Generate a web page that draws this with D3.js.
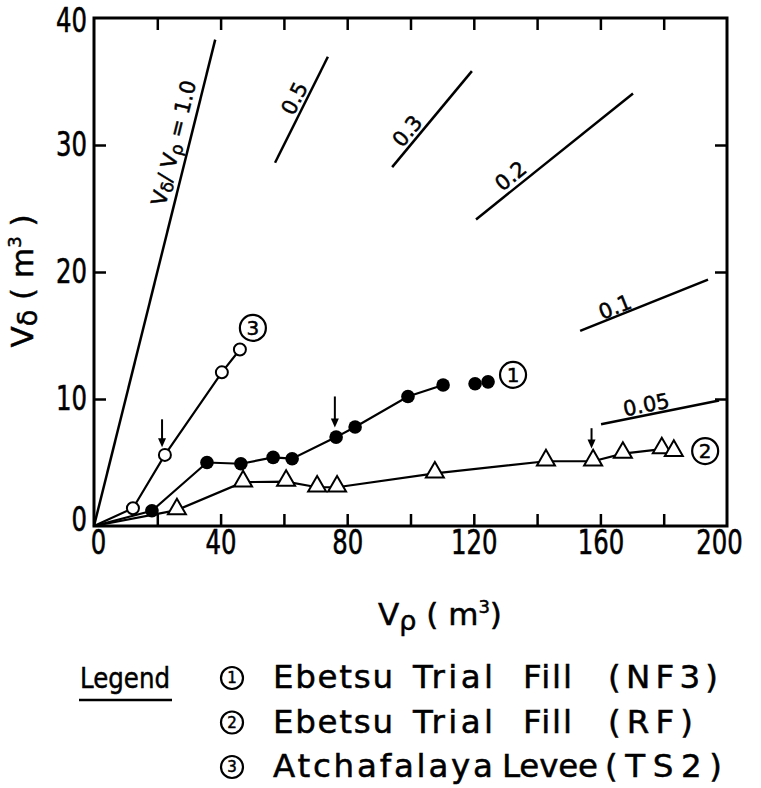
<!DOCTYPE html>
<html>
<head>
<meta charset="utf-8">
<script src="https://cdn.jsdelivr.net/npm/d3@7"></script>
<style>
  html, body { margin: 0; padding: 0; background: #fff; }
  svg { display: block; }
  .tick-label { font-family: 'DejaVu Sans', sans-serif; font-size: 33px; fill: #000; stroke: #000; stroke-width: 0.6px; }
  .hand { font-family: 'DejaVu Sans', sans-serif; fill: #000; }
  .heavy { stroke: #000; stroke-width: 0.5px; }
</style>
</head>
<body>
<svg id="chart" width="761" height="788"></svg>
<script>
// series 1: Ebetsu Trial Fill (NF3), filled circles
const nf3X = [18.3, 35.7, 46.4, 56.6, 62.6, 76.5, 82.5, 99.2, 110.3, 120.4, 124.5];
const nf3Y = [1.2, 5.0, 4.9, 5.4, 5.3, 7.0, 7.8, 10.2, 11.1, 11.2, 11.35];
const nf3Joined = 9; // last two points are not on the line

// series 2: Ebetsu Trial Fill (RF), triangles
const rfX = [26.2, 47.1, 60.7, 70.5, 76.8, 107.7, 142.8, 157.7, 167.1, 179.4, 183.2];
const rfY = [1.25, 3.45, 3.5, 3.05, 3.05, 4.15, 5.1, 5.1, 5.7, 6.05, 5.85];

// series 3: Atchafalaya Levee (TS2), open circles
const ts2X = [12.3, 22.4, 40.4, 46.1];
const ts2Y = [1.4, 5.6, 12.1, 13.9];

// V_delta / V_rho ratio lines
const ratioValues = [1.0, 0.5, 0.3, 0.2, 0.1, 0.05];
const ratioFrom = [0, 57.2, 94.2, 120.7, 153.6, 160.2];
const ratioTo = [38.3, 73.9, 119.4, 170.3, 194, 197.5];
const ratioLabels = ['1.0', '0.5', '0.3', '0.2', '0.1', '0.05'];
const ratioLabelAt = [0.78, 0.56, 0.30, 0.27, 0.30, 0.40];
const ratioLabelOff = [15, 11, 11, 12, 9, 10];

// arrows marking points (x, from y, to y)
const arrowX = [21.5, 76.1, 157.2];
const arrowTop = [8.4, 10.2, 7.7];
const arrowTip = [6.2, 7.75, 6.1];

// circled series numbers in the plot
const tagNums = ['3', '1', '2'];
const tagX = [50.2, 132.4, 193.1];
const tagY = [15.6, 11.9, 5.9];

const xMajor = [0, 40, 80, 120, 160, 200];
const xMinor = [20, 40, 60, 80, 100, 120, 140, 160, 180];
const yMajor = [0, 10, 20, 30, 40];
const yMinor = [10, 20, 30];

const legendNums = ['1', '2', '3'];
const legendWords = [
  ['Ebetsu', 'Trial', 'Fill', '(NF3)'],
  ['Ebetsu', 'Trial', 'Fill', '(RF)'],
  ['Atchafalaya', 'Levee', '(TS2)']
];
const legendWordX = [[273, 413, 523, 608], [273, 413, 523, 608], [273, 502, 605]];
const legendWordW = [[120, 80, 49, 110], [120, 80, 49, 85], [220, 96, 117]];

const svg = d3.select('#chart');
const x = d3.scaleLinear().domain([0, 200]).range([94, 727]);
const y = d3.scaleLinear().domain([0, 40]).range([526, 18]);

// minor ticks pointing inwards on all four sides
const tickLen = 12;
const ticks = (axis, tf) => svg.append('g').attr('transform', tf).call(axis)
  .call(g => g.select('.domain').remove())
  .call(g => g.selectAll('line').attr('stroke', '#000').attr('stroke-width', 2.5));
ticks(d3.axisBottom(x).tickValues(xMinor).tickSize(-tickLen).tickFormat(''), `translate(0,${y(0)})`);
ticks(d3.axisTop(x).tickValues(xMinor).tickSize(-tickLen).tickFormat(''), `translate(0,${y(40)})`);
ticks(d3.axisLeft(y).tickValues(yMinor).tickSize(-tickLen).tickFormat(''), `translate(${x(0)},0)`);
ticks(d3.axisRight(y).tickValues(yMinor).tickSize(-tickLen).tickFormat(''), `translate(${x(200)},0)`);

// tick labels, squeezed to the narrow digits of the original
const labels = (axis, tf) => svg.append('g').attr('transform', tf).call(axis)
  .call(g => g.select('.domain').remove())
  .call(g => g.selectAll('text').attr('class', 'tick-label').attr('font-size', null).attr('font-family', null)
    .attr('textLength', function () { return this.textContent.length * 15.5; })
    .attr('lengthAdjust', 'spacingAndGlyphs'));
const xLab = labels(d3.axisBottom(x).tickValues(xMajor).tickSize(0).tickPadding(5), `translate(0,${y(0)})`);
xLab.selectAll('text').filter(d => d === 0).attr('dx', 4);
xLab.selectAll('text').filter(d => d === 200).attr('dx', -8);
const yLab = labels(d3.axisLeft(y).tickValues(yMajor).tickSize(0).tickPadding(7), `translate(${x(0)},0)`);
yLab.selectAll('text').filter(d => d === 40).attr('dy', '0.42em');
yLab.selectAll('text').filter(d => d === 0).attr('dy', '0.15em');

// frame
svg.append('rect')
  .attr('x', x(0)).attr('y', y(40))
  .attr('width', x(200) - x(0)).attr('height', y(0) - y(40))
  .attr('fill', 'none').attr('stroke', '#000').attr('stroke-width', 3);

// ratio lines
ratioValues.forEach((r, i) => {
  const x0 = x(ratioFrom[i]), y0 = y(ratioFrom[i] * r);
  const x1 = x(ratioTo[i]), y1 = y(ratioTo[i] * r);
  svg.append('line').attr('x1', x0).attr('y1', y0).attr('x2', x1).attr('y2', y1)
    .attr('stroke', '#000').attr('stroke-width', 2.5);
  const dx = x1 - x0, dy = y1 - y0, len = Math.hypot(dx, dy);
  const ux = dx / len, uy = dy / len;
  const t = ratioLabelAt[i], off = ratioLabelOff[i];
  const px = x0 + t * dx + uy * off, py = y0 + t * dy - ux * off;
  const ang = Math.atan2(dy, dx) * 180 / Math.PI;
  const txt = svg.append('text').attr('class', 'hand heavy')
    .attr('transform', `translate(${px},${py}) rotate(${ang})`)
    .attr('text-anchor', 'middle').attr('dominant-baseline', 'central')
    .attr('font-size', 21);
  if (i === 0) {
    txt.append('tspan').text('V');
    txt.append('tspan').attr('font-size', 17).attr('dy', 4).text('δ');
    txt.append('tspan').attr('dy', -4).text('/ V');
    txt.append('tspan').attr('font-size', 17).attr('dy', 4).text('ρ');
    txt.append('tspan').attr('dy', -4).text(' = ' + ratioLabels[i]);
  } else {
    txt.text(ratioLabels[i]);
  }
});

// data lines from the origin
const line = d3.line().x(d => x(d[0])).y(d => y(d[1]));
const pts = (xs, ys) => xs.map((v, i) => [v, ys[i]]);
const drawLine = data => svg.append('path').datum([[0, 0], ...data]).attr('d', line)
  .attr('fill', 'none').attr('stroke', '#000').attr('stroke-width', 2.2);
drawLine(pts(nf3X, nf3Y).slice(0, nf3Joined));
drawLine(pts(rfX, rfY));
drawLine(pts(ts2X, ts2Y));

// markers
svg.append('g').selectAll('path').data(pts(rfX, rfY)).join('path')
  .attr('d', d3.symbol(d3.symbolTriangle, 140))
  .attr('transform', d => `translate(${x(d[0])},${y(d[1]) - 1})`)
  .attr('fill', '#fff').attr('stroke', '#000').attr('stroke-width', 2);
svg.append('g').selectAll('circle').data(pts(nf3X, nf3Y)).join('circle')
  .attr('cx', d => x(d[0])).attr('cy', d => y(d[1])).attr('r', 6.8)
  .attr('fill', '#000');
svg.append('g').selectAll('circle').data(pts(ts2X, ts2Y)).join('circle')
  .attr('cx', d => x(d[0])).attr('cy', d => y(d[1])).attr('r', 6)
  .attr('fill', '#fff').attr('stroke', '#000').attr('stroke-width', 2);

// arrows
arrowX.forEach((ax, i) => {
  const tipY = y(arrowTip[i]);
  svg.append('line').attr('x1', x(ax)).attr('x2', x(ax))
    .attr('y1', y(arrowTop[i])).attr('y2', tipY - 6)
    .attr('stroke', '#000').attr('stroke-width', 2);
  svg.append('path')
    .attr('d', `M${x(ax) - 4},${tipY - 9}L${x(ax) + 4},${tipY - 9}L${x(ax)},${tipY}Z`)
    .attr('fill', '#000');
});

// circled numbers
const circled = (cx, cy, r, num, fs) => {
  svg.append('circle').attr('cx', cx).attr('cy', cy).attr('r', r)
    .attr('fill', '#fff').attr('stroke', '#000').attr('stroke-width', 2.2);
  svg.append('text').attr('class', 'hand heavy').attr('x', cx).attr('y', cy)
    .attr('text-anchor', 'middle').attr('dominant-baseline', 'central')
    .attr('font-size', fs).text(num);
};
tagNums.forEach((n, i) => circled(x(tagX[i]), y(tagY[i]), 13, n, 20));

// axis titles
const xt = svg.append('text').attr('class', 'hand heavy').attr('x', 440).attr('y', 625)
  .attr('text-anchor', 'middle').attr('font-size', 31);
xt.append('tspan').text('V');
xt.append('tspan').attr('font-size', 27).attr('dy', 5).text('ρ');
xt.append('tspan').attr('dy', -5).text('  ( m');
xt.append('tspan').attr('font-size', 18).attr('dy', -12).text('3');
xt.append('tspan').attr('dy', 12).text(')');

const yt = svg.append('text').attr('class', 'hand heavy')
  .attr('transform', 'translate(33,281) rotate(-90)')
  .attr('text-anchor', 'middle').attr('font-size', 31);
yt.append('tspan').text('V');
yt.append('tspan').attr('font-size', 27).attr('dy', 4).text('δ');
yt.append('tspan').attr('dy', -4).text('  ( m');
yt.append('tspan').attr('font-size', 18).attr('dy', -12).text('3');
yt.append('tspan').attr('dy', 12).text(' )');

// legend
svg.append('text').attr('class', 'hand heavy').attr('x', 80).attr('y', 688)
  .attr('font-size', 29).attr('textLength', 90).attr('lengthAdjust', 'spacingAndGlyphs').text('Legend');
svg.append('line').attr('x1', 79).attr('x2', 172).attr('y1', 700).attr('y2', 700)
  .attr('stroke', '#000').attr('stroke-width', 2.5);
legendWords.forEach((words, i) => {
  const base = 688 + i * 44.5;
  circled(232, base - 10, 11, legendNums[i], 15);
  words.forEach((w, j) => {
    svg.append('text').attr('class', 'hand heavy')
      .attr('x', legendWordX[i][j]).attr('y', base)
      .attr('font-size', 32.5).attr('textLength', legendWordW[i][j]).attr('lengthAdjust', 'spacing')
      .text(w);
  });
});
</script>
</body>
</html>
